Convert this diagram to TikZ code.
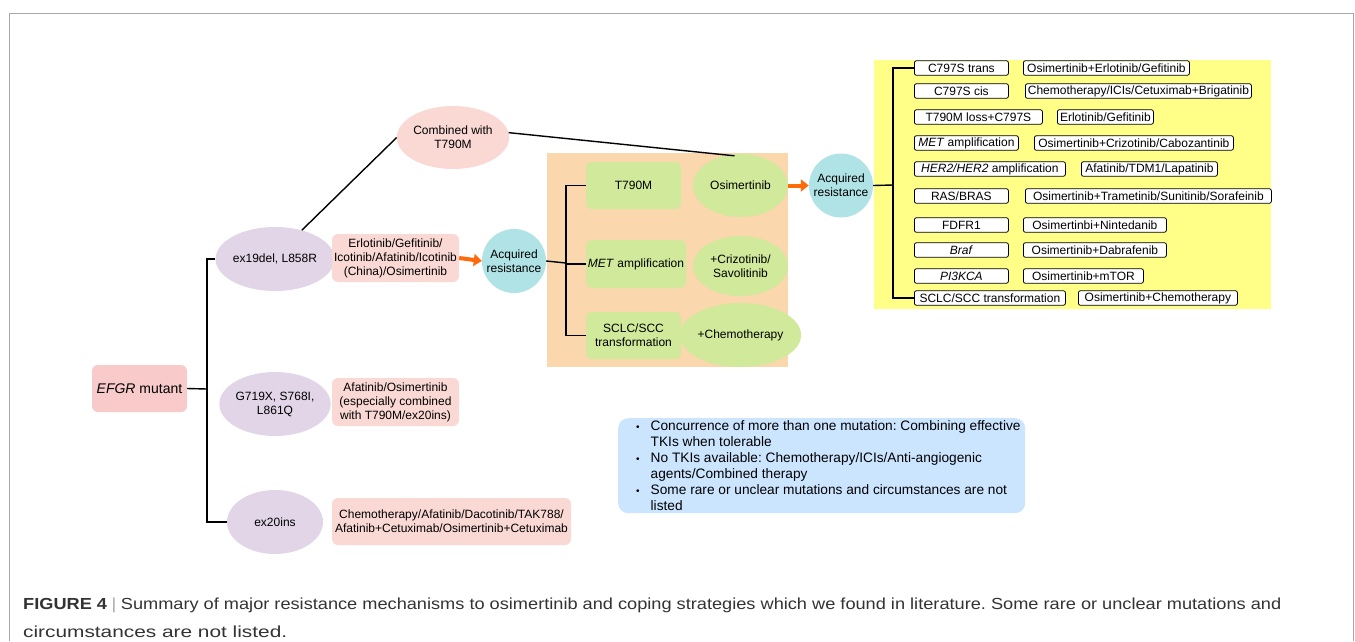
\documentclass[tikz,border=0pt]{standalone}
\usepackage{fontspec}
\setmainfont{Liberation Sans}
\usepackage{graphicx}
\usetikzlibrary{shapes.geometric,arrows.meta}
\definecolor{efgrc}{HTML}{F8CACA}
\definecolor{lavc}{HTML}{E1D5E7}
\definecolor{pinkc}{HTML}{FAD9D5}
\definecolor{cyanc}{HTML}{B0E3E6}
\definecolor{orangebg}{HTML}{FAD7AC}
\definecolor{greenc}{HTML}{D0E99A}
\definecolor{yellowc}{HTML}{FFFF88}
\definecolor{bluec}{HTML}{CCE5FF}
\definecolor{arrowc}{HTML}{FF6A0A}
\definecolor{capc}{HTML}{333333}
\definecolor{framec}{HTML}{A8A8A8}
\frenchspacing
\begin{document}
\begin{tikzpicture}[x=1pt,y=-1pt,
  font=\fontsize{12}{14}\selectfont,
  lav/.style={ellipse, fill=lavc, minimum width=96pt, minimum height=64pt, inner sep=0pt, align=center},
  pinkbox/.style={rectangle, rounded corners=6pt, fill=pinkc, inner sep=0pt, align=center},
  acq/.style={circle, fill=cyanc, minimum size=64pt, inner sep=0pt, align=center},
  gbox/.style={rectangle, rounded corners=6pt, fill=greenc, inner sep=0pt, align=center},
  gell/.style={ellipse, fill=greenc, minimum width=95pt, minimum height=63pt, inner sep=0pt, align=center},
  wbox/.style={draw=black, line width=0.8pt, rounded corners=2pt, fill=white, minimum height=14.5pt, inner sep=0pt, anchor=west},
  tree/.style={line width=1.4pt, draw=black},
  oarrow/.style={line width=4pt, draw=arrowc, -{Triangle[length=8pt,width=12pt]}}
]
\useasboundingbox (0,0) rectangle (1355,641);
\fill[white] (0,0) rectangle (1355,641);
\draw[framec, line width=1pt] (9,641) -- (9,13) -- (1353,13) -- (1353,641);

% left tree
\node[pinkbox, fill=efgrc, minimum width=95pt, minimum height=47pt, font=\fontsize{14}{16}\selectfont] (efgr) at (139.5,388.5) {\textit{EFGR} mutant};
\coordinate (ta) at (207,389);
\node[lav] (ex19) at (275,259) {ex19del, L858R};
\node[lav] (g719) at (275,404) {G719X, S768I,\\L861Q};
\node[lav] (ex20) at (275,522) {ex20ins};
\draw[tree] (efgr.east) -- (ta);
\draw[tree] (ex19.west) -- (ex19.west -| ta) -- (ex20.west -| ta) -- (ex20.west);

\node[pinkbox, minimum width=127pt, minimum height=48pt] (erl) at (395.5,258) {Erlotinib/Gefitinib/\\Icotinib/Afatinib/Icotinib\\(China)/Osimertinib};
\node[pinkbox, minimum width=127pt, minimum height=48pt] (afa) at (395.5,402) {Afatinib/Osimertinib\\(especially combined\\with T790M/ex20ins)};
\node[pinkbox, minimum width=239pt, minimum height=47pt] (chemo) at (451.5,521.5) {Chemotherapy/Afatinib/Dacotinib/TAK788/\\Afatinib+Cetuximab/Osimertinib+Cetuximab};

\node[ellipse, fill=pinkc, minimum width=96pt, minimum height=63pt, inner sep=0pt, align=center] (comb) at (453,137.5) {Combined with\\T790M};

\node[acq] (acq1) at (514,261) {Acquired\\resistance};
\draw[oarrow] (erl.east) -- (acq1.west);

% orange panel
\node[fill=orangebg, minimum width=241pt, minimum height=214pt, inner sep=0pt, anchor=north west] (opanel) at (547,153) {};
\node[gbox, minimum width=95pt, minimum height=47pt] (g1) at (633.5,185.5) {T790M};
\node[gbox, minimum width=100pt, minimum height=48pt] (g2) at (636,264) {\textit{MET} amplification};
\node[gbox, minimum width=95pt, minimum height=47pt] (g3) at (633.5,335.5) {SCLC/SCC\\transformation};
\node[gell] (e1) at (740.5,185.5) {Osimertinib};
\node[gell, minimum height=60pt] (e2) at (740.5,266) {+Crizotinib/\\Savolitinib};
\node[gell, minimum height=64pt] (e3) at (740.5,335) {+Chemotherapy};
\coordinate (tb) at (566,263);
\draw[tree] (acq1.east) -- (tb);
\draw[tree] (g1.west) -- (g1.west -| tb) -- (g3.west -| tb) -- (g3.west);
\draw[tree] (g2.west) -- (g2.west -| tb);

\draw[tree] (ex19.47) -- (comb.west);
\draw[tree] (comb.5) -- ([xshift=-6pt,yshift=-2pt]e1.north);

\node[acq] (acq2) at (841,185.5) {Acquired\\resistance};
\draw[oarrow] (e1.east) -- (acq2.west);

% yellow panel
\node[fill=yellowc, minimum width=397pt, minimum height=249pt, inner sep=0pt, anchor=north west] (ypanel) at (874,60) {};
\coordinate (tc) at (893,185);
\node[wbox, minimum width=94pt] (l1) at (914,68) {C797S trans};
\node[wbox, minimum width=94pt] (l2) at (914,91) {C797S cis};
\node[wbox, minimum width=128pt] (l3) at (914,117) {T790M loss+C797S};
\node[wbox, minimum width=104pt] (l4) at (914,143) {\textit{MET} amplification};
\node[wbox, minimum width=151pt] (l5) at (914,169) {\textit{HER2/HER2} amplification};
\node[wbox, minimum width=94pt] (l6) at (914,196) {RAS/BRAS};
\node[wbox, minimum width=94pt] (l7) at (914,225) {FDFR1};
\node[wbox, minimum width=94pt] (l8) at (914,250) {\textit{Braf}};
\node[wbox, minimum width=94pt] (l9) at (914,276) {\textit{PI3KCA}};
\node[wbox, minimum width=151pt] (l10) at (914,298) {SCLC/SCC transformation};
\node[wbox, minimum width=166pt] (r1) at (1023,68) {Osimertinib+Erlotinib/Gefitinib};
\node[wbox, minimum width=226pt] (r2) at (1025,91) {Chemotherapy/ICIs/Cetuximab+Brigatinib};
\node[wbox, minimum width=96pt] (r3) at (1057,117) {Erlotinib/Gefitinib};
\node[wbox, minimum width=199pt] (r4) at (1034,143) {Osimertinib+Crizotinib/Cabozantinib};
\node[wbox, minimum width=136pt] (r5) at (1081,169) {Afatinib/TDM1/Lapatinib};
\node[wbox, minimum width=246pt] (r6) at (1025,196) {Osimertinib+Trametinib/Sunitinib/Sorafeinib};
\node[wbox, minimum width=143pt] (r7) at (1023,225) {Osimertinbi+Nintedanib};
\node[wbox, minimum width=143pt] (r8) at (1023,250) {Osimertinib+Dabrafenib};
\node[wbox, minimum width=120pt] (r9) at (1023,276) {Osimertinib+mTOR};
\node[wbox, minimum width=159pt] (r10) at (1078,298) {Osimertinib+Chemotherapy};
\draw[tree] (acq2.east) -- (tc);
\draw[tree] (l1.west) -- (l1.west -| tc) -- (l10.west -| tc) -- (l10.west);

% blue note
\node[fill=bluec, rounded corners=10pt, minimum width=407pt, minimum height=95pt, inner sep=0pt, anchor=north west] (note) at (618,418) {};
\node[anchor=north west, inner sep=0pt, font=\fontsize{13.7}{16}\selectfont] (notetxt) at (636,419) {%
\begin{tabular}{@{}c@{\hspace{11pt}}l@{}}
{\fontsize{10}{10}\selectfont\textbullet} & Concurrence of more than one mutation: Combining effective\\
 & TKIs when tolerable\\
{\fontsize{10}{10}\selectfont\textbullet} & No TKIs available: Chemotherapy/ICIs/Anti-angiogenic\\
 & agents/Combined therapy\\
{\fontsize{10}{10}\selectfont\textbullet} & Some rare or unclear mutations and circumstances are not\\
 & listed
\end{tabular}};

% caption
\node[anchor=base west, inner sep=0pt, text=capc, font=\fontsize{16}{20}\selectfont] (cap1) at (23,609) {\resizebox{1258pt}{\height}{\textbf{FIGURE 4}\hspace{4pt}{\color{framec}|}\hspace{4pt}Summary of major resistance mechanisms to osimertinib and coping strategies which we found in literature. Some rare or unclear mutations and}};
\node[anchor=base west, inner sep=0pt, text=capc, font=\fontsize{16}{20}\selectfont] (cap2) at (23,637) {\resizebox{264pt}{\height}{circumstances are not listed.}};
\end{tikzpicture}
\end{document}
